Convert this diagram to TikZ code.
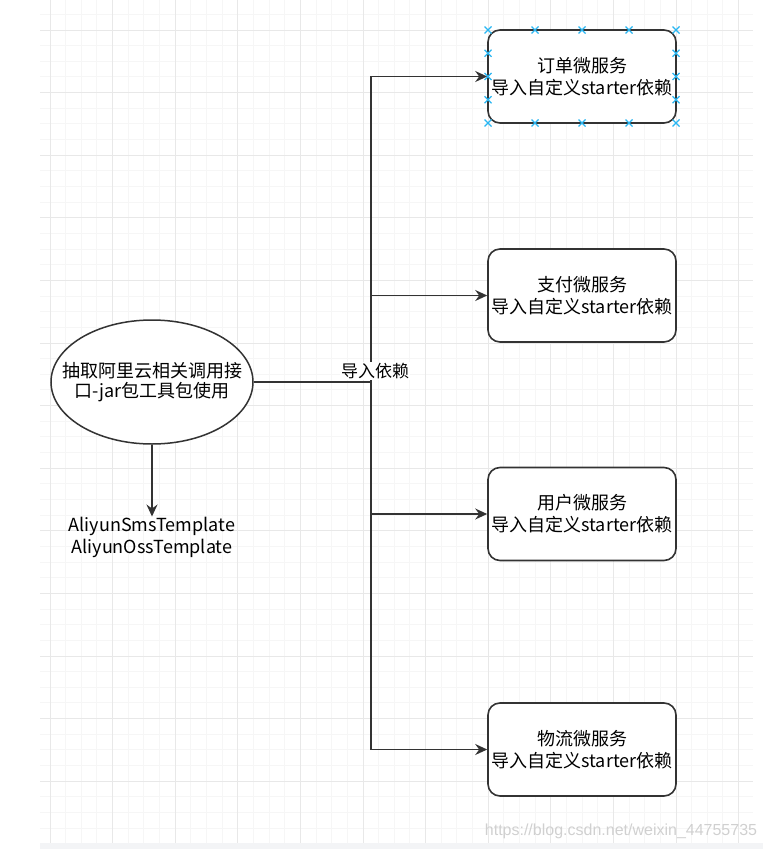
\documentclass[tikz,border=0pt]{standalone}
\usepackage{fontspec}
\setmainfont{Noto Sans CJK SC}
\newfontfamily\markfont{Liberation Sans}
\usepackage{xcolor}
\definecolor{lineGray}{HTML}{333333}
\definecolor{gridMinor}{HTML}{F6F6F6}
\definecolor{gridMajor}{HTML}{E8E8E8}
\definecolor{bandGray}{HTML}{F3F4F6}
\definecolor{handleBlue}{HTML}{29B6F2}
\definecolor{markGray}{HTML}{D0D0D0}
\usepackage{tikz}
\usetikzlibrary{
    shapes.geometric,
    arrows.meta,
    positioning
}
\tikzset{
    % Base style for all texts
    sketch base/.style={
        font=\fontsize{18}{22}\selectfont,
        align=center,
        text=black,
        inner sep=0pt,
    },
    % Micro service boxes - rounded rectangle
    service/.style={
        sketch base,
        rectangle,
        rounded corners=12pt,
        draw=lineGray,
        line width=1.6pt,
        fill=white,
        minimum width=188pt,
        minimum height=93pt,
    },
    % Tool jar - ellipse
    toolbox/.style={
        sketch base,
        font=\fontsize{18}{20}\selectfont,
        ellipse,
        draw=lineGray,
        line width=1.5pt,
        fill=white,
        inner xsep=-22pt,
        inner ysep=0pt,
        minimum width=202pt,
        minimum height=124pt,
    },
    % Plain text under the ellipse
    plain/.style={
        sketch base,
    },
    % Edge label
    edge label/.style={
        sketch base,
        font=\fontsize{17}{20}\selectfont,
        fill=white,
        inner sep=1pt,
    },
    % Connector arrow
    link/.style={
        -{Stealth[length=12pt, width=11pt, inset=4pt]},
        line width=1.6pt,
        draw=lineGray,
    },
    % Selection handles
    handle/.style={
        draw=handleBlue,
        line width=1.3pt,
    },
}

\begin{document}
\begin{tikzpicture}[x=1pt, y=-1pt]
    \useasboundingbox (0,0) rectangle (763,849);

    % grid
    \fill[bandGray] (40,843) rectangle (763,849);
    \foreach \k in {0,...,44}
        \draw[gridMinor, line width=1pt] ({50+15.65*\k},0) -- ({50+15.65*\k},843);
    \foreach \k in {-1,...,51}
        \draw[gridMinor, line width=1pt] (40,{30+15.65*\k}) -- (753,{30+15.65*\k});
    \foreach \k in {0,...,11}
        \draw[gridMajor, line width=1pt] ({50+62.6*\k},0) -- ({50+62.6*\k},843);
    \foreach \k in {0,...,12}
        \draw[gridMajor, line width=1pt] (40,{30+62.6*\k}) -- (753,{30+62.6*\k});

    \node (jar) [toolbox] at (152,382) {抽取阿里云相关调用接\\口-jar包工具包使用};
    \node (tpl) [plain] at (152,537) {AliyunSmsTemplate\\AliyunOssTemplate};

    \node (order) [service] at (582,76.5) {订单微服务\\导入自定义starter依赖};
    \node (pay) [service] at (582,295.5) {支付微服务\\导入自定义starter依赖};
    \node (user) [service] at (582,514) {用户微服务\\导入自定义starter依赖};
    \node (logistics) [service] at (582,749.5) {物流微服务\\导入自定义starter依赖};

    \coordinate (fork) at (371,382);

    \draw [link] (jar.south) -- (tpl.north);
    \draw [link] (jar.east) -- (fork) |- (order.west);
    \draw [link] (jar.east) -- (fork) |- (pay.west);
    \draw [link] (jar.east) -- (fork) |- (user.west);
    \draw [link] (jar.east) -- (fork) |- (logistics.west);

    \node (dep) [edge label] at (375,371) {导入依赖};

    % handles of the selected box
    \foreach \hx in {488,535,582,629,676}
        \foreach \hy in {30,123}
            \draw[handle] ({\hx-3.5},{\hy-3.5}) -- ({\hx+3.5},{\hy+3.5})
                          ({\hx-3.5},{\hy+3.5}) -- ({\hx+3.5},{\hy-3.5});
    \foreach \hx in {488,676}
        \foreach \hy in {53.25,76.5,99.75}
            \draw[handle] ({\hx-3.5},{\hy-3.5}) -- ({\hx+3.5},{\hy+3.5})
                          ({\hx-3.5},{\hy+3.5}) -- ({\hx+3.5},{\hy-3.5});

    \node (wm) [font=\markfont\fontsize{16}{18}\selectfont, text=markGray, inner sep=0pt] at (621,831) {https://blog.csdn.net/weixin\_44755735};
\end{tikzpicture}
\end{document}
